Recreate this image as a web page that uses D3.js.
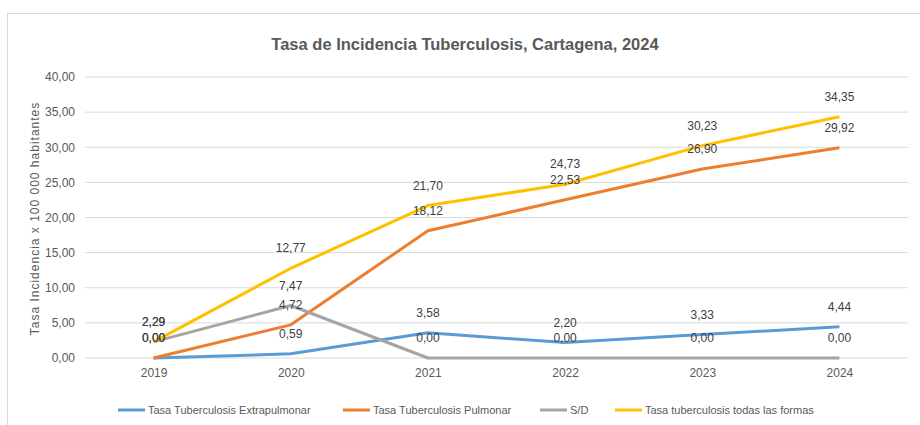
<!DOCTYPE html>
<html>
<head>
<meta charset="utf-8">
<script src="https://cdn.jsdelivr.net/npm/d3@7"></script>
<style>
  body { margin: 0; background: #fff; }
  svg { font-family: 'Liberation Sans', sans-serif; }
</style>
</head>
<body>
<script>
let years = ['2019', '2020', '2021', '2022', '2023', '2024']
let extrapulmonar = [0.00, 0.59, 3.58, 2.20, 3.33, 4.44]
let pulmonar = [0.00, 4.72, 18.12, 22.53, 26.90, 29.92]
let sinDato = [2.29, 7.47, 0.00, 0.00, 0.00, 0.00]
let todas = [2.29, 12.77, 21.70, 24.73, 30.23, 34.35]
let yTicks = [0, 5, 10, 15, 20, 25, 30, 35, 40]

let series = [
  { name: 'Tasa Tuberculosis Extrapulmonar', values: extrapulmonar, color: '#5B9BD5' },
  { name: 'Tasa Tuberculosis Pulmonar', values: pulmonar, color: '#ED7D31' },
  { name: 'S/D', values: sinDato, color: '#A5A5A5' },
  { name: 'Tasa tuberculosis todas las formas', values: todas, color: '#FFC000' }
]

let width = 920, height = 425
let plot = { left: 85, right: 908, top: 77, bottom: 358 }

let fmt = v => d3.format('.2f')(v).replace('.', ',')

let svg = d3.select('body').append('svg')
  .attr('width', width)
  .attr('height', height)

// chart border
svg.append('rect')
  .attr('x', 7.5).attr('y', 13.5)
  .attr('width', 940).attr('height', 440)
  .attr('fill', 'none')
  .attr('stroke', '#d9d9d9')

let x = d3.scalePoint().domain(years).range([plot.left, plot.right]).padding(0.5)
let y = d3.scaleLinear().domain([0, 40]).range([plot.bottom, plot.top])

// gridlines
svg.append('g')
  .selectAll('line')
  .data(yTicks)
  .enter()
  .append('line')
  .attr('x1', plot.left).attr('x2', plot.right)
  .attr('y1', d => y(d)).attr('y2', d => y(d))
  .attr('stroke', '#d9d9d9')
  .attr('stroke-width', 1)

// y tick labels
let yAxis = svg.append('g')
  .attr('transform', 'translate(' + (plot.left - 10) + ',0)')
  .call(d3.axisLeft(y).tickValues(yTicks).tickSize(0).tickPadding(0).tickFormat(fmt))
yAxis.select('.domain').remove()
yAxis.selectAll('text')
  .attr('fill', '#595959')
  .style('font-size', '12px')

// x axis labels
let xAxis = svg.append('g')
  .attr('transform', 'translate(0,' + (plot.bottom + 10) + ')')
  .call(d3.axisBottom(x).tickSize(0).tickPadding(0))
xAxis.select('.domain').remove()
xAxis.selectAll('text')
  .attr('fill', '#595959')
  .style('font-size', '12px')

// title
svg.append('text')
  .attr('x', 465).attr('y', 50)
  .attr('text-anchor', 'middle')
  .attr('fill', '#595959')
  .style('font-size', '16.5px')
  .style('font-weight', 'bold')
  .text('Tasa de Incidencia Tuberculosis, Cartagena, 2024')

// y axis title
svg.append('text')
  .attr('transform', 'translate(39,' + ((plot.top + plot.bottom) / 2 + 1) + ') rotate(-90)')
  .attr('text-anchor', 'middle')
  .attr('fill', '#595959')
  .style('font-size', '12px')
  .style('letter-spacing', '1px')
  .text('Tasa Incidencia x 100 000 habitantes')

// lines
let line = d3.line()
  .x((d, i) => x(years[i]))
  .y(d => y(d))

svg.append('g')
  .selectAll('path')
  .data(series)
  .enter()
  .append('path')
  .attr('d', d => line(d.values))
  .attr('fill', 'none')
  .attr('stroke', d => d.color)
  .attr('stroke-width', 3)
  .attr('stroke-linejoin', 'round')

// data labels, above each point
series.forEach(s => {
  svg.append('g')
    .selectAll('text')
    .data(s.values)
    .enter()
    .append('text')
    .attr('x', (d, i) => x(years[i]))
    .attr('y', d => y(d) - 16)
    .attr('text-anchor', 'middle')
    .attr('fill', '#404040')
    .style('font-size', '12px')
    .text(d => fmt(d))
})

// legend
let legendX = [118, 343, 540, 615]
let legend = svg.append('g')
  .selectAll('g')
  .data(series)
  .enter()
  .append('g')
  .attr('transform', (d, i) => 'translate(' + legendX[i] + ',410)')

legend.append('line')
  .attr('x1', 0).attr('x2', 27)
  .attr('stroke', d => d.color)
  .attr('stroke-width', 3)

legend.append('text')
  .attr('x', 30).attr('y', 4)
  .attr('fill', '#595959')
  .style('font-size', '11px')
  .text(d => d.name)
</script>
</body>
</html>
